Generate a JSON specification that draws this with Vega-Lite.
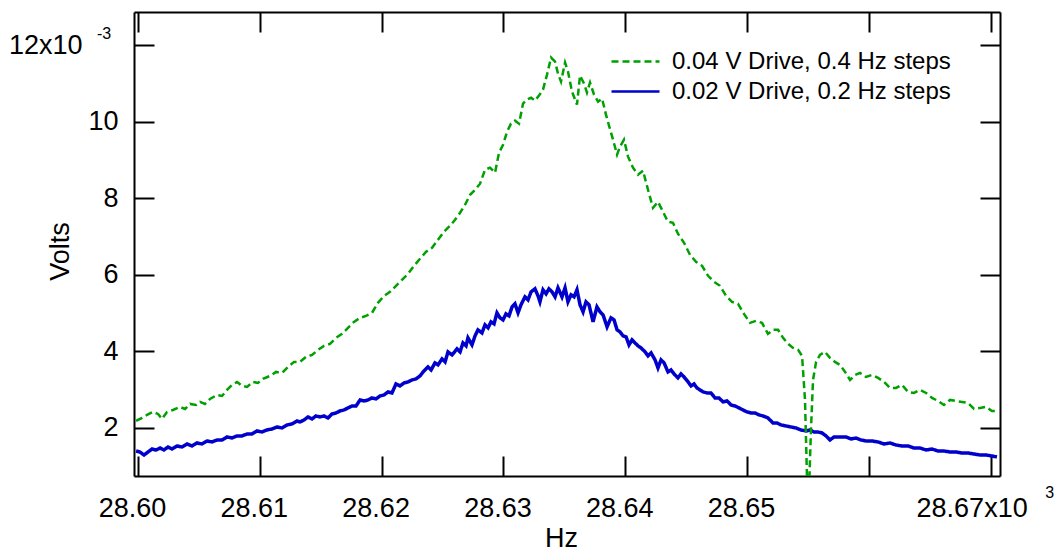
{
  "$schema": "https://vega.github.io/schema/vega-lite/v6.json",
  "width": 866,
  "height": 464,
  "autosize": "none",
  "padding": {"left": 134, "top": 12, "right": 58, "bottom": 78},
  "background": "white",
  "config": {
    "view": {"stroke": null},
    "font": "Liberation Sans",
    "axis": {
      "grid": false,
      "domainColor": "black",
      "domainWidth": 2,
      "tickColor": "black",
      "tickWidth": 2,
      "tickSize": -20,
      "labelColor": "black",
      "labelFont": "Liberation Sans",
      "labelFontSize": 27,
      "titleFont": "Liberation Sans",
      "titleFontSize": 27,
      "titleFontWeight": "normal",
      "titleColor": "black"
    }
  },
  "datasets": {
    "green": [
      {"f":28.59984,"v":2.175},{"f":28.60033,"v":2.254},{"f":28.60074,"v":2.332},{"f":28.60123,"v":2.411},{"f":28.60164,"v":2.359},{"f":28.60197,"v":2.228},{"f":28.60238,"v":2.411},{"f":28.60287,"v":2.463},{"f":28.60345,"v":2.542},{"f":28.60386,"v":2.489},
      {"f":28.60427,"v":2.620},{"f":28.60476,"v":2.594},{"f":28.60509,"v":2.673},{"f":28.60550,"v":2.620},{"f":28.60591,"v":2.751},{"f":28.60649,"v":2.856},{"f":28.60690,"v":2.830},{"f":28.60731,"v":2.987},{"f":28.60772,"v":3.118},{"f":28.60813,"v":3.196},
      {"f":28.60854,"v":3.092},{"f":28.60895,"v":3.066},{"f":28.60944,"v":3.196},{"f":28.60985,"v":3.170},{"f":28.61026,"v":3.275},{"f":28.61084,"v":3.353},{"f":28.61133,"v":3.458},{"f":28.61182,"v":3.432},{"f":28.61232,"v":3.589},{"f":28.61281,"v":3.720},
      {"f":28.61330,"v":3.720},{"f":28.61379,"v":3.851},{"f":28.61429,"v":3.903},{"f":28.61478,"v":4.034},{"f":28.61527,"v":4.139},{"f":28.61576,"v":4.191},{"f":28.61626,"v":4.348},{"f":28.61675,"v":4.453},{"f":28.61724,"v":4.610},{"f":28.61773,"v":4.767},
      {"f":28.61823,"v":4.871},{"f":28.61872,"v":4.924},{"f":28.61921,"v":5.002},{"f":28.61970,"v":5.264},{"f":28.62020,"v":5.447},{"f":28.62069,"v":5.552},{"f":28.62118,"v":5.709},{"f":28.62167,"v":5.866},{"f":28.62217,"v":6.023},{"f":28.62266,"v":6.233},
      {"f":28.62315,"v":6.416},{"f":28.62365,"v":6.599},{"f":28.62414,"v":6.704},{"f":28.62463,"v":6.913},{"f":28.62512,"v":7.123},{"f":28.62562,"v":7.280},{"f":28.62603,"v":7.437},{"f":28.62644,"v":7.620},{"f":28.62685,"v":7.830},{"f":28.62726,"v":8.091},
      {"f":28.62767,"v":8.222},{"f":28.62808,"v":8.379},{"f":28.62849,"v":8.746},{"f":28.62890,"v":8.798},{"f":28.62931,"v":8.667},{"f":28.62964,"v":9.191},{"f":28.62997,"v":9.400},{"f":28.63030,"v":9.741},{"f":28.63062,"v":9.950},{"f":28.63095,"v":10.029},
      {"f":28.63128,"v":9.950},{"f":28.63161,"v":10.474},{"f":28.63194,"v":10.579},{"f":28.63227,"v":10.631},{"f":28.63259,"v":10.552},{"f":28.63292,"v":10.683},{"f":28.63325,"v":10.840},{"f":28.63358,"v":11.233},{"f":28.63391,"v":11.678},{"f":28.63424,"v":11.573},
      {"f":28.63448,"v":11.259},{"f":28.63473,"v":11.050},{"f":28.63506,"v":11.547},{"f":28.63530,"v":11.311},{"f":28.63563,"v":10.788},{"f":28.63604,"v":10.448},{"f":28.63629,"v":11.207},{"f":28.63662,"v":10.998},{"f":28.63686,"v":10.762},{"f":28.63711,"v":11.024},
      {"f":28.63744,"v":10.709},{"f":28.63777,"v":10.526},{"f":28.63810,"v":10.605},{"f":28.63842,"v":10.186},{"f":28.63867,"v":9.898},{"f":28.63900,"v":9.531},{"f":28.63933,"v":9.139},{"f":28.63957,"v":9.348},{"f":28.63990,"v":9.531},{"f":28.64023,"v":9.086},
      {"f":28.64064,"v":8.798},{"f":28.64105,"v":8.615},{"f":28.64146,"v":8.720},{"f":28.64187,"v":8.222},{"f":28.64228,"v":7.751},{"f":28.64269,"v":7.908},{"f":28.64310,"v":7.647},{"f":28.64351,"v":7.385},{"f":28.64392,"v":7.359},{"f":28.64433,"v":7.071},
      {"f":28.64483,"v":6.835},{"f":28.64532,"v":6.521},{"f":28.64581,"v":6.338},{"f":28.64631,"v":6.233},{"f":28.64680,"v":5.971},{"f":28.64729,"v":5.814},{"f":28.64778,"v":5.709},{"f":28.64828,"v":5.447},{"f":28.64877,"v":5.290},{"f":28.64926,"v":5.238},
      {"f":28.64975,"v":4.976},{"f":28.65025,"v":4.741},{"f":28.65074,"v":4.793},{"f":28.65123,"v":4.741},{"f":28.65172,"v":4.453},{"f":28.65213,"v":4.558},{"f":28.65255,"v":4.558},{"f":28.65296,"v":4.348},{"f":28.65337,"v":4.191},{"f":28.65378,"v":4.086},
      {"f":28.65419,"v":4.034},{"f":28.65452,"v":3.877},{"f":28.65476,"v":2.725},{"f":28.65493,"v":0.631},{"f":28.65509,"v":0.369},{"f":28.65525,"v":1.940},{"f":28.65542,"v":3.249},{"f":28.65567,"v":3.720},{"f":28.65599,"v":3.903},{"f":28.65640,"v":3.982},
      {"f":28.65681,"v":3.825},{"f":28.65722,"v":3.720},{"f":28.65764,"v":3.641},{"f":28.65805,"v":3.458},{"f":28.65846,"v":3.249},{"f":28.65887,"v":3.380},{"f":28.65928,"v":3.432},{"f":28.65977,"v":3.327},{"f":28.66026,"v":3.380},{"f":28.66076,"v":3.301},
      {"f":28.66125,"v":3.196},{"f":28.66174,"v":3.039},{"f":28.66223,"v":3.039},{"f":28.66273,"v":3.118},{"f":28.66322,"v":2.935},{"f":28.66371,"v":2.908},{"f":28.66420,"v":2.987},{"f":28.66470,"v":2.908},{"f":28.66519,"v":2.777},{"f":28.66568,"v":2.699},
      {"f":28.66617,"v":2.594},{"f":28.66667,"v":2.725},{"f":28.66716,"v":2.699},{"f":28.66765,"v":2.673},{"f":28.66814,"v":2.646},{"f":28.66864,"v":2.489},{"f":28.66913,"v":2.515},{"f":28.66962,"v":2.542},{"f":28.67011,"v":2.437},{"f":28.67052,"v":2.437}
    ],
    "blue": [
      {"f":28.59984,"v":1.390},{"f":28.60016,"v":1.364},{"f":28.60049,"v":1.285},{"f":28.60082,"v":1.364},{"f":28.60115,"v":1.442},{"f":28.60148,"v":1.416},{"f":28.60181,"v":1.468},{"f":28.60213,"v":1.416},{"f":28.60246,"v":1.495},{"f":28.60279,"v":1.442},
      {"f":28.60320,"v":1.521},{"f":28.60361,"v":1.495},{"f":28.60402,"v":1.573},{"f":28.60443,"v":1.521},{"f":28.60484,"v":1.600},{"f":28.60525,"v":1.573},{"f":28.60567,"v":1.652},{"f":28.60608,"v":1.626},{"f":28.60649,"v":1.678},{"f":28.60690,"v":1.678},
      {"f":28.60731,"v":1.757},{"f":28.60772,"v":1.730},{"f":28.60813,"v":1.783},{"f":28.60854,"v":1.783},{"f":28.60895,"v":1.835},{"f":28.60936,"v":1.835},{"f":28.60977,"v":1.914},{"f":28.61018,"v":1.887},{"f":28.61059,"v":1.940},{"f":28.61100,"v":1.966},
      {"f":28.61141,"v":2.018},{"f":28.61182,"v":1.992},{"f":28.61223,"v":2.071},{"f":28.61264,"v":2.097},{"f":28.61305,"v":2.175},
      {"f":28.61330,"v":2.149},{"f":28.61363,"v":2.202},{"f":28.61396,"v":2.280},{"f":28.61429,"v":2.228},{"f":28.61461,"v":2.306},{"f":28.61494,"v":2.280},{"f":28.61527,"v":2.306},{"f":28.61560,"v":2.254},{"f":28.61593,"v":2.359},{"f":28.61626,"v":2.385},
      {"f":28.61658,"v":2.437},{"f":28.61691,"v":2.463},{"f":28.61724,"v":2.516},{"f":28.61757,"v":2.568},{"f":28.61790,"v":2.568},{"f":28.61823,"v":2.725},{"f":28.61856,"v":2.699},{"f":28.61888,"v":2.725},{"f":28.61921,"v":2.777},{"f":28.61954,"v":2.751},
      {"f":28.61987,"v":2.830},{"f":28.62020,"v":2.856},{"f":28.62053,"v":2.935},{"f":28.62085,"v":2.908},{"f":28.62118,"v":3.144},{"f":28.62151,"v":3.092},{"f":28.62184,"v":3.170},{"f":28.62217,"v":3.196},{"f":28.62250,"v":3.249},{"f":28.62282,"v":3.275},
      {"f":28.62315,"v":3.353},{"f":28.62348,"v":3.484},{"f":28.62381,"v":3.589},{"f":28.62406,"v":3.510},{"f":28.62438,"v":3.694},{"f":28.62463,"v":3.641},{"f":28.62496,"v":3.798},{"f":28.62521,"v":3.720},{"f":28.62545,"v":3.982},{"f":28.62578,"v":3.903},
      {"f":28.62619,"v":4.060},{"f":28.62644,"v":3.982},{"f":28.62668,"v":4.217},{"f":28.62693,"v":4.139},{"f":28.62709,"v":4.348},{"f":28.62742,"v":4.165},{"f":28.62767,"v":4.401},{"f":28.62791,"v":4.558},{"f":28.62824,"v":4.479},{"f":28.62849,"v":4.689},
      {"f":28.62874,"v":4.610},{"f":28.62898,"v":4.767},{"f":28.62923,"v":4.715},{"f":28.62947,"v":5.003},{"f":28.62972,"v":4.872},{"f":28.62997,"v":4.819},{"f":28.63021,"v":4.976},{"f":28.63046,"v":4.924},{"f":28.63071,"v":5.160},{"f":28.63095,"v":5.238},
      {"f":28.63120,"v":5.003},{"f":28.63144,"v":5.212},{"f":28.63177,"v":5.421},{"f":28.63202,"v":5.343},{"f":28.63227,"v":5.552},{"f":28.63259,"v":5.631},{"f":28.63284,"v":5.447},{"f":28.63300,"v":5.291},{"f":28.63325,"v":5.605},{"f":28.63350,"v":5.500},
      {"f":28.63374,"v":5.631},{"f":28.63399,"v":5.552},{"f":28.63424,"v":5.421},{"f":28.63448,"v":5.657},{"f":28.63481,"v":5.421},{"f":28.63506,"v":5.657},{"f":28.63530,"v":5.291},{"f":28.63555,"v":5.474},{"f":28.63580,"v":5.421},{"f":28.63604,"v":5.605},
      {"f":28.63629,"v":5.212},{"f":28.63654,"v":5.029},{"f":28.63678,"v":5.291},{"f":28.63703,"v":5.212},{"f":28.63736,"v":4.767},{"f":28.63768,"v":5.160},{"f":28.63793,"v":5.029},{"f":28.63818,"v":4.950},{"f":28.63851,"v":4.636},{"f":28.63883,"v":4.872},
      {"f":28.63908,"v":4.819},{"f":28.63933,"v":4.558},{"f":28.63957,"v":4.505},{"f":28.63982,"v":4.401},{"f":28.64007,"v":4.374},{"f":28.64031,"v":4.165},{"f":28.64056,"v":4.296},{"f":28.64080,"v":4.217},{"f":28.64105,"v":4.139},{"f":28.64130,"v":4.086},
      {"f":28.64163,"v":3.982},{"f":28.64187,"v":3.877},{"f":28.64212,"v":3.955},{"f":28.64245,"v":3.772},{"f":28.64269,"v":3.563},{"f":28.64294,"v":3.772},{"f":28.64319,"v":3.694},{"f":28.64351,"v":3.458},{"f":28.64376,"v":3.510},{"f":28.64401,"v":3.406},
      {"f":28.64433,"v":3.301},{"f":28.64458,"v":3.406},{"f":28.64483,"v":3.327},{"f":28.64516,"v":3.196},{"f":28.64540,"v":3.092},{"f":28.64565,"v":3.144},{"f":28.64589,"v":3.039},{"f":28.64614,"v":2.987},{"f":28.64639,"v":2.935},{"f":28.64672,"v":2.908},
      {"f":28.64704,"v":2.908},{"f":28.64737,"v":2.777},{"f":28.64770,"v":2.777},{"f":28.64803,"v":2.673},{"f":28.64836,"v":2.699},{"f":28.64869,"v":2.594},{"f":28.64901,"v":2.568},{"f":28.64934,"v":2.516},{"f":28.64967,"v":2.463},{"f":28.65000,"v":2.411},
      {"f":28.65033,"v":2.385},{"f":28.65066,"v":2.385},{"f":28.65099,"v":2.332},{"f":28.65131,"v":2.306},{"f":28.65172,"v":2.254},{"f":28.65213,"v":2.123},{"f":28.65246,"v":2.123},{"f":28.65279,"v":2.071},{"f":28.65320,"v":2.045},{"f":28.65361,"v":2.018},
      {"f":28.65402,"v":1.992},{"f":28.65443,"v":1.940},{"f":28.65484,"v":1.914},{"f":28.65517,"v":1.940},{"f":28.65550,"v":1.887},{"f":28.65583,"v":1.887},{"f":28.65616,"v":1.861},{"f":28.65649,"v":1.783},{"f":28.65681,"v":1.678},{"f":28.65714,"v":1.757},
      {"f":28.65747,"v":1.757},{"f":28.65772,"v":1.757},{"f":28.65813,"v":1.757},{"f":28.65854,"v":1.704},
      {"f":28.65895,"v":1.730},{"f":28.65936,"v":1.678},{"f":28.65977,"v":1.652},{"f":28.66026,"v":1.652},{"f":28.66076,"v":1.626},{"f":28.66125,"v":1.573},{"f":28.66174,"v":1.600},{"f":28.66223,"v":1.547},{"f":28.66273,"v":1.521},{"f":28.66322,"v":1.521},
      {"f":28.66371,"v":1.468},{"f":28.66420,"v":1.468},{"f":28.66470,"v":1.416},{"f":28.66519,"v":1.442},{"f":28.66568,"v":1.390},{"f":28.66617,"v":1.390},{"f":28.66667,"v":1.364},{"f":28.66716,"v":1.364},{"f":28.66765,"v":1.338},{"f":28.66814,"v":1.338},
      {"f":28.66864,"v":1.311},{"f":28.66913,"v":1.285},{"f":28.66962,"v":1.285},{"f":28.67011,"v":1.259},{"f":28.67052,"v":1.233}
    ]
  },
  "resolve": {"axis": {"x": "independent", "y": "independent"}},
  "layer": [
    {
      "data": {"name": "blue"},
      "mark": {"type": "line", "clip": true, "strokeWidth": 3.5, "interpolate": "linear"},
      "encoding": {
        "x": {
          "field": "f", "type": "quantitative",
          "scale": {"domain": [28.59967, 28.67077], "nice": false, "zero": false},
          "axis": {
            "orient": "bottom",
            "title": "Hz",
            "titleX": 427,
            "titleY": 62,
            "titleAlign": "center",
            "titleBaseline": "middle",
            "values": [28.60, 28.61, 28.62, 28.63, 28.64, 28.65, 28.66, 28.67],
            "labelExpr": "abs(datum.value-28.67)<0.000001 ? '28.67x10' : (abs(datum.value-28.66)<0.000001 ? '' : format(datum.value, '.2f'))",
            "labelPadding": 39,
            "labelFlush": false,
            "labelOverlap": false,
            "labelOffset": {"condition": {"test": "datum.value > 28.665", "value": -19}, "value": -6}
          }
        },
        "y": {
          "field": "v", "type": "quantitative",
          "scale": {"domain": [0.736, 12.87], "nice": false, "zero": false},
          "axis": {
            "orient": "left",
            "title": "Volts",
            "titleX": -74,
            "titleY": 239,
            "titleAlign": "center",
            "titleBaseline": "middle",
            "titleAngle": -90,
            "values": [2, 4, 6, 8, 10, 12],
            "labelExpr": "datum.value == 12 ? '12x10' : datum.label",
            "labelPadding": {"condition": {"test": "datum.value > 11", "value": 72}, "value": 36},
            "labelFlush": false,
            "labelOverlap": false
          }
        },
        "color": {
          "datum": "0.02 V Drive, 0.2 Hz steps", "type": "nominal",
          "scale": {"domain": ["0.04 V Drive, 0.4 Hz steps", "0.02 V Drive, 0.2 Hz steps"], "range": ["#00A000", "#0000CC"]},
          "legend": {
            "orient": "none", "legendX": 488, "legendY": 36,
            "title": null,
            "symbolType": "M -2 0 L 2 0",
            "symbolSize": 576,
            "symbolStrokeWidth": 2.5,
            "labelFont": "Liberation Sans",
            "labelFontSize": 24,
            "labelColor": "black",
            "labelOffset": 23,
            "labelLimit": 500,
            "rowPadding": 4
          }
        },
        "strokeDash": {
          "datum": "0.02 V Drive, 0.2 Hz steps", "type": "nominal",
          "scale": {"domain": ["0.04 V Drive, 0.4 Hz steps", "0.02 V Drive, 0.2 Hz steps"], "range": [[7, 4], [1, 0]]},
          "legend": {
            "orient": "none", "legendX": 488, "legendY": 36,
            "title": null,
            "symbolType": "M -2 0 L 2 0",
            "symbolSize": 576,
            "symbolStrokeWidth": 2.5,
            "labelFont": "Liberation Sans",
            "labelFontSize": 24,
            "labelColor": "black",
            "labelOffset": 23,
            "labelLimit": 500,
            "rowPadding": 4
          }
        }
      }
    },
    {
      "data": {"name": "green"},
      "mark": {"type": "line", "clip": true, "strokeWidth": 2.5, "interpolate": "linear"},
      "encoding": {
        "x": {
          "field": "f", "type": "quantitative",
          "scale": {"domain": [28.59967, 28.67077], "nice": false, "zero": false},
          "axis": {
            "orient": "top", "title": null, "labels": false,
            "values": [28.60, 28.61, 28.62, 28.63, 28.64, 28.65, 28.66, 28.67]
          }
        },
        "y": {
          "field": "v", "type": "quantitative",
          "scale": {"domain": [0.736, 12.87], "nice": false, "zero": false},
          "axis": {
            "orient": "right", "title": null, "labels": false,
            "values": [2, 4, 6, 8, 10, 12]
          }
        },
        "color": {"datum": "0.04 V Drive, 0.4 Hz steps", "type": "nominal"},
        "strokeDash": {"datum": "0.04 V Drive, 0.4 Hz steps", "type": "nominal"}
      }
    },
    {
      "data": {"values": [{}]},
      "mark": {"type": "text", "text": "-3", "fontSize": 16, "font": "Liberation Sans", "color": "black", "align": "center", "baseline": "middle", "dx": -30, "dy": -11},
      "encoding": {
        "x": {"datum": 28.59967, "type": "quantitative", "axis": null},
        "y": {"datum": 12, "type": "quantitative", "axis": null}
      }
    },
    {
      "data": {"values": [{}]},
      "mark": {"type": "text", "text": "3", "fontSize": 16, "font": "Liberation Sans", "color": "black", "align": "center", "baseline": "middle", "dx": 59, "dy": 17},
      "encoding": {
        "x": {"datum": 28.67, "type": "quantitative", "axis": null},
        "y": {"datum": 0.736, "type": "quantitative", "axis": null}
      }
    }
  ]
}
